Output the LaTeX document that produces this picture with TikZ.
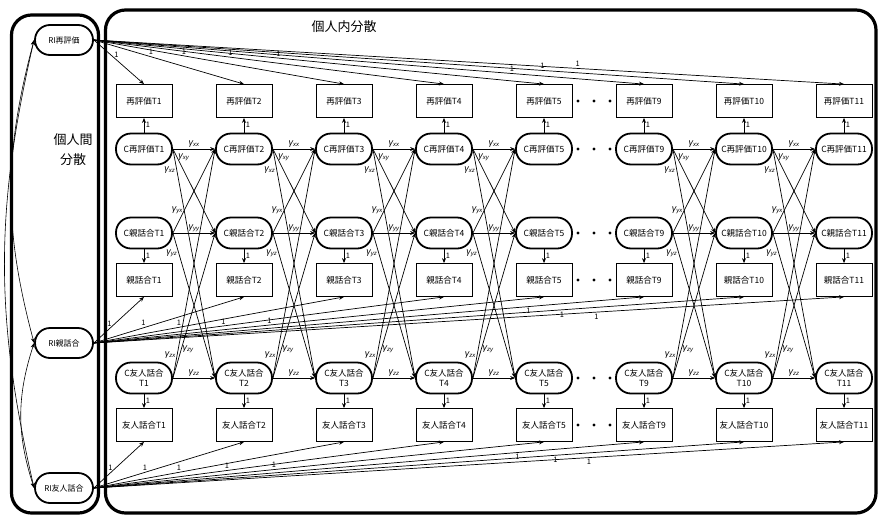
\documentclass[tikz,border=0pt]{standalone}
\usepackage{fontspec}
\setmainfont{Noto Sans CJK JP}
\newfontfamily\gk{Liberation Sans}
\usetikzlibrary{arrows.meta, positioning}
\newcommand\gm[1]{{\gk\itshape γ\textsubscript{#1}}}
\tikzset{
  every picture/.style={line width=0.7pt},
  obs/.style={draw, line width=0.8pt, minimum width=56pt, minimum height=33pt, inner sep=1pt, font=\fontsize{8.5}{10}\selectfont},
  lat/.style={draw, line width=1.8pt, rounded corners=15pt, minimum width=56pt, minimum height=31pt, inner sep=1pt, align=center, font=\fontsize{8.5}{10.5}\selectfont},
  ri/.style={minimum width=58pt, minimum height=30pt, font=\fontsize{8}{10}\selectfont},
  arrow/.style={-{Stealth[length=5pt, width=4pt]}, line width=0.7pt},
  cov/.style={{Stealth[length=5pt, width=4pt]}-{Stealth[length=5pt, width=4pt]}, line width=0.6pt},
  one/.style={font=\fontsize{7.5}{8}\selectfont, inner sep=1.5pt},
  gam/.style={font=\fontsize{9}{10}\selectfont, inner sep=1pt},
  panel/.style={draw, line width=3.2pt, rounded corners=20pt},
  heading/.style={font=\fontsize{13}{20}\selectfont, align=center},
}

\begin{document}
\begin{tikzpicture}[x=1pt, y=-1pt]
  \useasboundingbox (0,0) rectangle (880,517);
  \draw[panel] (11.5,15) rectangle (98.5,513);
  \draw[panel] (105.5,10) rectangle (876,513);
  \node[heading] (between) at (73,150) {個人間\\分散};
  \node[heading] (within) at (344,27) {個人内分散};
  % random intercepts
  \node[lat, ri] (rix) at (64,40) {RI再評価};
  \node[lat, ri] (riy) at (64,343) {RI親話合};
  \node[lat, ri] (riz) at (64,488) {RI友人話合};
  \draw[cov] (rix.west) to[bend right=15] (riy.west);
  \draw[cov] (riy.west) to[bend right=18] (riz.west);
  \draw[cov] (rix.west) to[bend right=13] (riz.west);
  % one column per wave
  \foreach \i/\t in {1/1, 2/2, 3/3, 4/4, 5/5, 6/9, 7/10, 8/11} {
    \node[obs] (x\i) at ({44+100*\i},101) {再評価T\t};
    \node[lat] (cx\i) at ({44+100*\i},149) {C再評価T\t};
    \node[lat] (cy\i) at ({44+100*\i},233) {C親話合T\t};
    \node[obs] (y\i) at ({44+100*\i},280) {親話合T\t};
    \node[lat] (cz\i) at ({44+100*\i},378) {C友人話合\\T\t};
    \node[obs] (z\i) at ({44+100*\i},425) {友人話合T\t};
    \draw[arrow] (cx\i) -- node[one, right] {1} (x\i);
    \draw[arrow] (cy\i) -- node[one, right] {1} (y\i);
    \draw[arrow] (cz\i) -- node[one, right] {1} (z\i);
  }
  \foreach \y in {101,149,233,280,378,425}
    \foreach \x in {578,594,610}
      \fill (\x,\y) circle (1.7);
  % loadings of the intercepts
  \foreach \i/\p/\q/\r/\s in {1/.45/.31/.33/above, 2/.38/.33/.34/above, 3/.36/.34/.34/above, 4/.39/.37/.38/above,
                              5/.41/.39/.40/above, 6/.76/.79/.77/below, 7/.69/.72/.71/below, 8/.645/.67/.66/below} {
    \draw[arrow] (rix.east) -- node[one, pos=\p, above] {1} (x\i.north);
    \draw[arrow] (riy.east) -- node[one, pos=\q, \s] {1} (y\i.south);
    \draw[arrow] (riz.east) -- node[one, pos=\r, \s] {1} (z\i.south);
  }
  % autoregressive and cross-lagged paths
  \foreach \i/\j in {1/2, 2/3, 3/4, 4/5, 6/7, 7/8} {
    \draw[arrow] (cx\i.east) -- node[gam, above] {\gm{xx}} (cx\j.west);
    \draw[arrow] (cx\i.east) -- node[gam, pos=.1, right] {\gm{xy}} (cy\j.west);
    \draw[arrow] (cx\i.east) -- node[gam, pos=.09, left] {\gm{xz}} (cz\j.west);
    \draw[arrow] (cy\i.east) -- node[gam, pos=.27, left] {\gm{yx}} (cx\j.west);
    \draw[arrow] (cy\i.east) -- node[gam, above] {\gm{yy}} (cy\j.west);
    \draw[arrow] (cy\i.east) -- node[gam, pos=.14, left] {\gm{yz}} (cz\j.west);
    \draw[arrow] (cz\i.east) -- node[gam, pos=.1, left] {\gm{zx}} (cx\j.west);
    \draw[arrow] (cz\i.east) -- node[gam, pos=.2, right] {\gm{zy}} (cy\j.west);
    \draw[arrow] (cz\i.east) -- node[gam, above] {\gm{zz}} (cz\j.west);
  }
\end{tikzpicture}
\end{document}
